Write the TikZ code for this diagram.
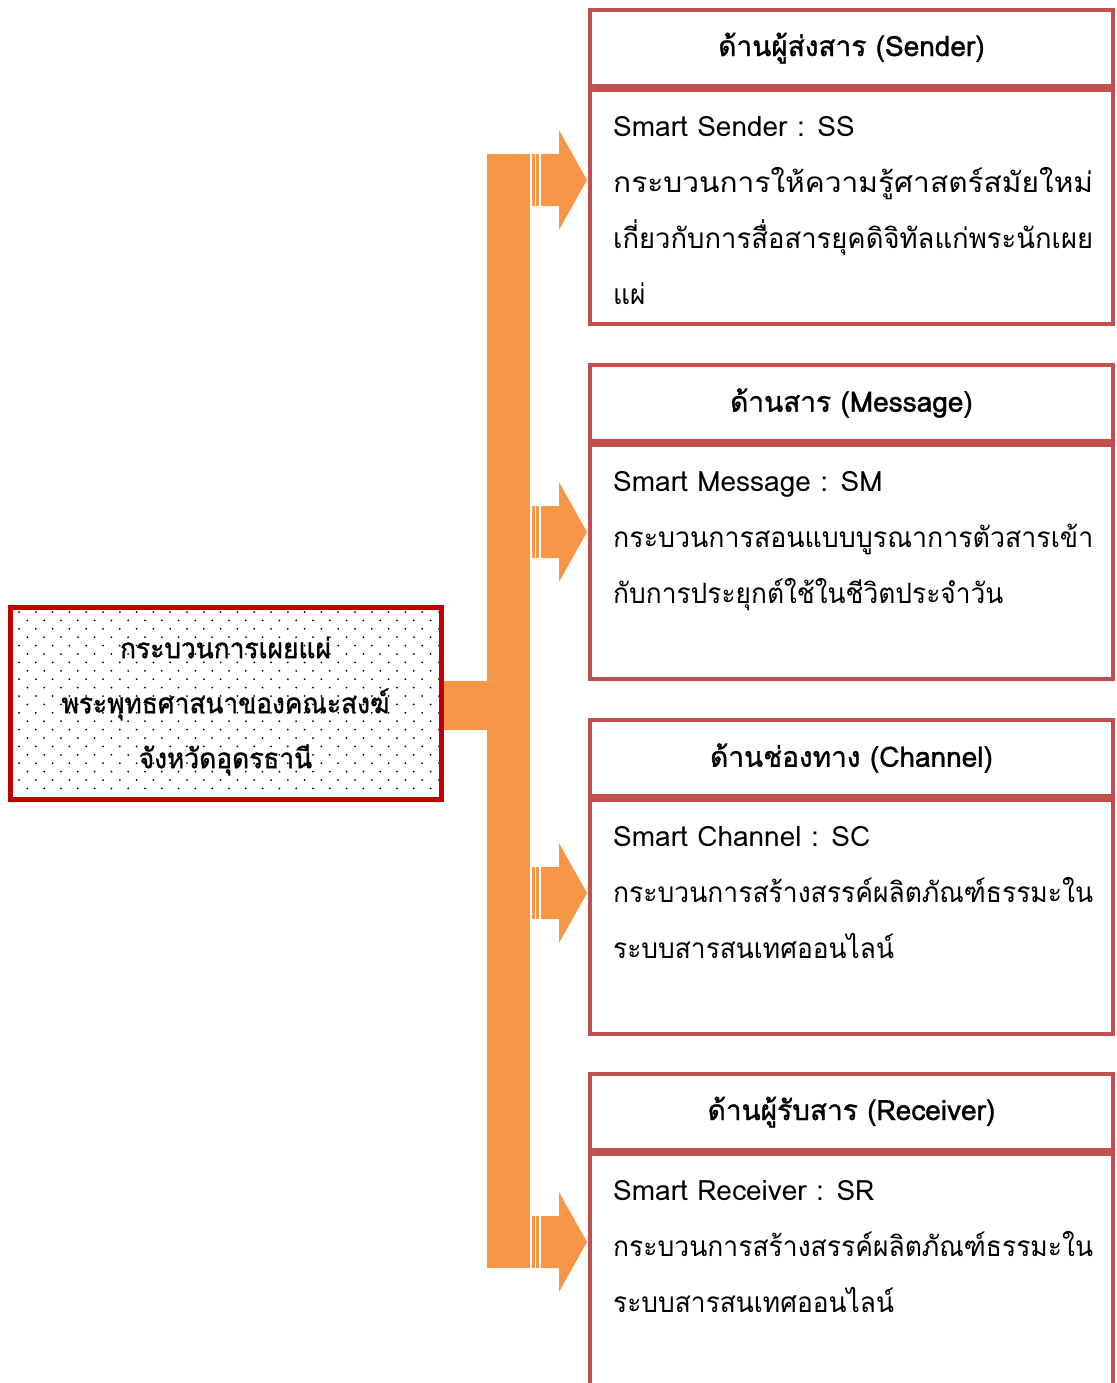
\documentclass[tikz,border=0pt]{standalone}
\usepackage{fontspec}
\setmainfont[Script=Thai]{Loma}
\newfontfamily\headfont[Script=Thai, FakeBold=1.2]{Loma}
\usetikzlibrary{positioning,calc}
\definecolor{panelred}{HTML}{C0504D}
\definecolor{srcred}{HTML}{C00000}
\definecolor{flowor}{HTML}{F79646}
% Thai lines: full (distributed) width and natural width
\newcommand{\thfull}[1]{\resizebox{480pt}{\height}{#1}}
\newcommand{\thpart}[1]{\scalebox{0.94}[1]{#1}}

\begin{document}
\begin{tikzpicture}[x=1pt, y=-1pt,
  head/.style={rectangle, draw=panelred, line width=4pt, anchor=north west, inner sep=0pt,
    minimum width=523pt, minimum height=76pt, font=\headfont\fontsize{28}{56}\selectfont},
  body/.style={rectangle, draw=panelred, line width=4pt, inner sep=0pt,
    minimum width=523pt, minimum height=234pt},
  txt/.style={anchor=north west, align=left, inner sep=0pt, font=\fontsize{28}{56}\selectfont},
  src/.style={rectangle, draw=srcred, line width=5pt, inner sep=0pt,
    minimum width=431pt, minimum height=192pt,
    path picture={
      \foreach \r in {0,...,21}{
        \foreach \c in {0,...,25}{
          \fill ($(path picture bounding box.north west)+({9+8.4*mod(\r,2)+16.8*\c},{5+8.4*\r})$) circle (1pt);
        }
      }
    }},
  srctxt/.style={align=center, inner sep=0pt, font=\headfont\fontsize{28}{55}\selectfont},
  flow/.style={fill=flowor},
]
\path[use as bounding box, clip] (0,0) rectangle (1116,1383);

% === Source (left) ===
\node[src] (src) at (225.5,703) {};
\node[srctxt] (srclbl) at ($(src.center)+(0,3)$) {\thpart{กระบวนการเผยแผ่}\\
  \thpart{พระพุทธศาสนาของคณะสงฆ์}\\
  \thpart{จังหวัดอุดรธานี}};

% === Trunk and arrows ===
\fill[flow] (src.east) ++(0,-22) rectangle ++(44,49);
\fill[flow] (487,154) rectangle (530,1268);
\foreach \c in {180,532,893,1242}{
  \fill[flow] (532,\c-26) rectangle (534.5,\c+26);
  \fill[flow] (536,\c-26) rectangle (539,\c+26);
  \fill[flow] (541,\c-26) -- (559,\c-26) -- (559,\c-50) -- (587,\c)
    -- (559,\c+50) -- (559,\c+26) -- (541,\c+26) -- cycle;
}

% === Sender ===
\node[head] (sshead) at (588,8) {ด้านผู้ส่งสาร (Sender)};
\node[body, below=0pt of sshead] (ssbody) {};
\node[txt] (sstxt) at ($(ssbody.north west)+(25,28)$) {Smart Sender : SS\\
  \thfull{กระบวนการให้ความรู้ศาสตร์สมัยใหม่}\\
  \thfull{เกี่ยวกับการสื่อสารยุคดิจิทัลแก่พระนักเผย}\\
  \thpart{แผ่}};

% === Message ===
\node[head] (smhead) at (588,363) {ด้านสาร (Message)};
\node[body, below=0pt of smhead] (smbody) {};
\node[txt] (smtxt) at ($(smbody.north west)+(25,28)$) {Smart Message : SM\\
  \thfull{กระบวนการสอนแบบบูรณาการตัวสารเข้า}\\
  \thpart{กับการประยุกต์ใช้ในชีวิตประจำวัน}};

% === Channel ===
\node[head] (schead) at (588,718) {ด้านช่องทาง (Channel)};
\node[body, below=0pt of schead] (scbody) {};
\node[txt] (sctxt) at ($(scbody.north west)+(25,28)$) {Smart Channel : SC\\
  \thfull{กระบวนการสร้างสรรค์ผลิตภัณฑ์ธรรมะใน}\\
  \thpart{ระบบสารสนเทศออนไลน์}};

% === Receiver ===
\node[head] (srhead) at (588,1072) {ด้านผู้รับสาร (Receiver)};
\node[body, below=0pt of srhead, minimum height=280pt] (srbody) {};
\node[txt] (srtxt) at ($(srbody.north west)+(25,28)$) {Smart Receiver : SR\\
  \thfull{กระบวนการสร้างสรรค์ผลิตภัณฑ์ธรรมะใน}\\
  \thpart{ระบบสารสนเทศออนไลน์}};

\end{tikzpicture}
\end{document}
